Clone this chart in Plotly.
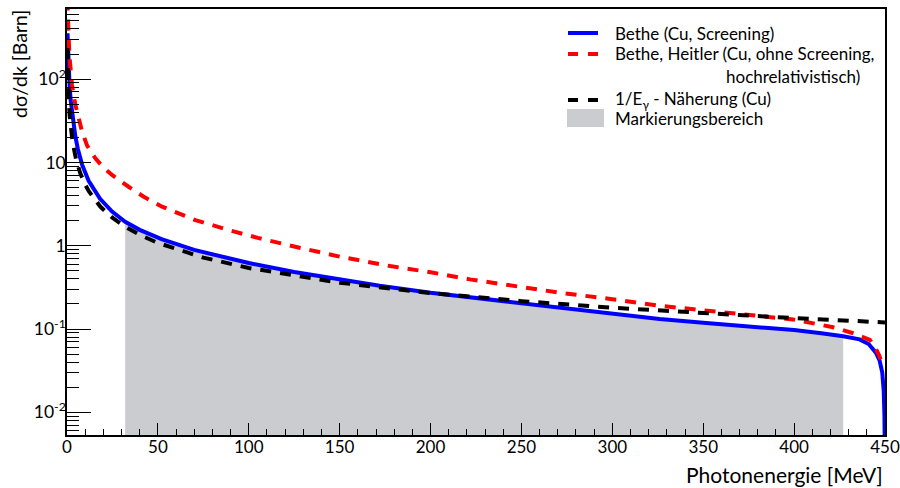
import numpy as np
import plotly.graph_objects as go

# ---------------- data ----------------
# Photon energy [MeV] and dsigma/dk [barn]
E_BETHE = [0.3, 0.5, 0.7, 1.0, 1.4, 2.0, 3.0, 4.6, 6.0, 8.3, 11.9, 15.6, 18.2, 24.8,
           32, 40, 52, 70, 89, 100, 125, 150, 172, 200, 227, 271, 300, 326, 350,
           381, 400, 415, 427, 436, 441, 445, 447, 448.5, 449.3, 449.7, 450]
SIG_BETHE = [355, 250, 180, 125, 85, 56, 36, 20.5, 14.4, 9.4, 6.0, 4.36, 3.65, 2.57,
             1.94, 1.55, 1.2, 0.89, 0.705, 0.62, 0.484, 0.39, 0.33, 0.272, 0.232, 0.178,
             0.152, 0.132, 0.119, 0.105, 0.097, 0.089, 0.082, 0.075, 0.066, 0.052,
             0.042, 0.030, 0.018, 0.009, 0.002]

E_BH = [0.2, 0.35, 0.55, 0.8, 1.3, 2.0, 2.75, 4.6, 6.0, 8.3, 11.0, 15.6, 20, 24.8,
        33.9, 42, 52.3, 70.6, 89, 105, 125.6, 150, 177.7, 200, 221.7, 254.7, 271,
        300, 326, 363, 399.5, 421.5, 432.5, 441.7, 445, 447, 448]
SIG_BH = [900, 800, 590, 380, 195, 120, 85, 49, 36, 23.4, 16.0, 11.2, 8.7, 7.06,
          5.1, 3.9, 2.94, 2.03, 1.54, 1.24, 0.97, 0.74, 0.57, 0.48, 0.394, 0.308,
          0.273, 0.228, 0.19, 0.157, 0.13, 0.105, 0.089, 0.074, 0.058, 0.047, 0.04]

E_APPROX = [0.23, 0.35, 0.5, 0.75, 1, 1.5, 2, 3, 5, 7.3, 10, 12, 18.3, 24.8, 32, 40,
            50, 75, 100, 150, 200, 250, 300, 350, 400, 450]
SIG_APPROX = [235, 155, 108, 72, 54, 36, 27, 18, 10.8, 7.4, 5.4, 4.5, 2.95, 2.18,
              1.69, 1.35, 1.08, 0.72, 0.54, 0.36, 0.27, 0.216, 0.18, 0.154, 0.135, 0.12]

MARK_RANGE = [32, 427]          # Markierungsbereich [MeV]

X_TICKS = [0, 50, 100, 150, 200, 250, 300, 350, 400, 450]
Y_TICKS = [0.01, 0.1, 1, 10, 100]
Y_TICK_TEXT = ["10<sup>-2</sup>", "10<sup>-1</sup>", "1", "10", "10<sup>2</sup>"]
Y_MINOR = [k * 10.0 ** d for d in range(-3, 3) for k in range(2, 10)]

LABELS = ["Bethe (Cu, Screening)",
          "Bethe, Heitler (Cu, ohne Screening,",
          "hochrelativistisch)",
          "1/E<sub>γ</sub> - Näherung (Cu)",
          "Markierungsbereich"]

X_TITLE = "Photonenergie [MeV]"
Y_TITLE = "dσ/dk [Barn]"

# ---------------- styles ----------------
FONT = "Lato"
BLUE = "#0000ff"
RED = "#ff0000"
BLACK = "#000000"
GREY = "#cbcccf"

W, H = 900, 488
L, T, PW, PH = 67, 9, 818, 426
R, B = W - L - PW, H - T - PH


def px2paper(sx, sy):
    """figure pixel -> paper coordinates"""
    return (sx - L) / PW, (T + PH - sy) / PH


fig = go.Figure()

# grey marked region under the Bethe curve
eb = np.array(E_BETHE)
sb = np.array(SIG_BETHE)
m = (eb >= MARK_RANGE[0]) & (eb <= MARK_RANGE[1])
fx = list(eb[m]) + [MARK_RANGE[1], MARK_RANGE[0]]
fy = list(sb[m]) + [1e-5, 1e-5]
fig.add_trace(go.Scatter(x=fx, y=fy, mode="lines", fill="toself",
                         fillcolor=GREY, line=dict(width=0, color=GREY),
                         showlegend=False, hoverinfo="skip"))

fig.add_trace(go.Scatter(x=E_BETHE, y=SIG_BETHE, mode="lines",
                         line=dict(color=BLUE, width=4), showlegend=False))
fig.add_trace(go.Scatter(x=E_BH, y=SIG_BH, mode="lines",
                         line=dict(color=RED, width=4, dash="11px,9px"),
                         showlegend=False))
fig.add_trace(go.Scatter(x=E_APPROX, y=SIG_APPROX, mode="lines",
                         line=dict(color=BLACK, width=4, dash="11px,9px"),
                         showlegend=False))

# ---------------- hand-made legend (ROOT style, no box) ----------------
shapes = []
annotations = []
leg_items = [
    ("line", BLUE, "solid", 33, LABELS[0], 613),
    ("line", RED, "10px,10px", 54, LABELS[1], 613),
    (None, None, None, 77, LABELS[2], 724),
    ("line", BLACK, "10px,10px", 100, LABELS[3], 613),
    ("rect", GREY, None, 118, LABELS[4], 613),
]
for kind, col, dash, py, text, tx in leg_items:
    if kind == "line":
        x0, y0 = px2paper(568, py)
        x1, _ = px2paper(598, py)
        shapes.append(dict(type="line", xref="paper", yref="paper",
                           x0=x0, x1=x1, y0=y0, y1=y0,
                           line=dict(color=col, width=4, dash=dash)))
    elif kind == "rect":
        x0, y0 = px2paper(567, py - 9)
        x1, y1 = px2paper(604, py + 9)
        shapes.append(dict(type="rect", xref="paper", yref="paper",
                           x0=x0, x1=x1, y0=y0, y1=y1,
                           fillcolor=col, line=dict(width=0)))
    ax, ay = px2paper(tx, py)
    annotations.append(dict(text=text, x=ax, y=ay, xref="paper", yref="paper",
                            xanchor="left", yanchor="middle", showarrow=False,
                            font=dict(family=FONT, size=17, color="black")))

# axis titles (ROOT style: aligned to the axis end)
tx, ty = px2paper(885, 474)
annotations.append(dict(text=X_TITLE, x=tx, y=ty, xref="paper", yref="paper",
                        xanchor="right", yanchor="middle", showarrow=False,
                        font=dict(family=FONT, size=21, color="black")))
tx, ty = px2paper(20, 64)
annotations.append(dict(text=Y_TITLE, x=tx, y=ty, xref="paper", yref="paper",
                        xanchor="center", yanchor="middle", showarrow=False,
                        textangle=-90,
                        font=dict(family=FONT, size=19.5, color="black")))

fig.update_layout(
    width=W, height=H,
    margin=dict(l=L, r=R, t=T, b=B, pad=0, autoexpand=False),
    paper_bgcolor="white", plot_bgcolor="white",
    font=dict(family=FONT, size=16, color="black"),
    showlegend=False,
    shapes=shapes, annotations=annotations,
    xaxis=dict(range=[0, 450], tickvals=X_TICKS, ticks="inside", ticklen=12,
               tickwidth=1.3, tickcolor="black", showline=True, mirror=True,
               linecolor="black", linewidth=1.5, showgrid=False, zeroline=False,
               automargin=False, ticklabelstandoff=-4, ticklabeloverflow="allow",
               tickfont=dict(family=FONT, size=17),
               minor=dict(dtick=10, ticks="inside", ticklen=6, tickwidth=1.3,
                          tickcolor="black", showgrid=False)),
    yaxis=dict(type="log", range=[np.log10(0.00534), np.log10(694)],
               tickvals=Y_TICKS, ticktext=Y_TICK_TEXT, ticks="inside",
               ticklen=24, tickwidth=1.3, tickcolor="black", showline=True,
               mirror=True, linecolor="black", linewidth=1.5, showgrid=False,
               zeroline=False, automargin=False, ticklabelstandoff=-4,
               tickfont=dict(family=FONT, size=17.5),
               minor=dict(tickvals=Y_MINOR, ticks="inside", ticklen=12,
                          tickwidth=1.3, tickcolor="black", showgrid=False)),
)

fig.write_html("out.html",
               config={"displayModeBar": False},
               post_script="document.body.style.margin='0px';"
                           "document.body.style.overflow='hidden';")
